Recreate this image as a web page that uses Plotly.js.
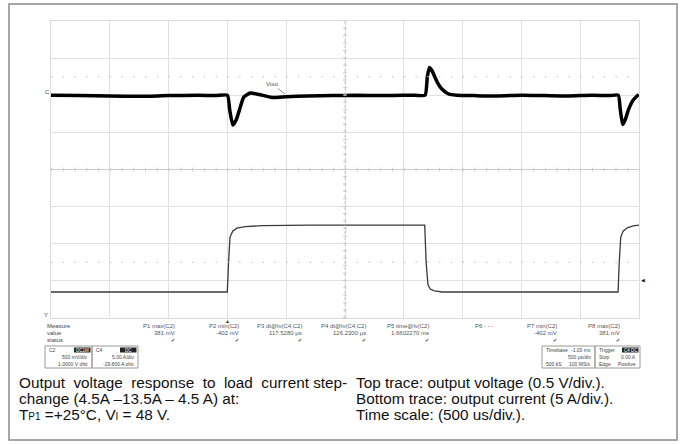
<!DOCTYPE html>
<html><head><meta charset="utf-8">
<script src="https://cdn.plot.ly/plotly-3.0.1.min.js"></script>
<style>html,body{margin:0;padding:0;background:#fff}#chart{width:685px;height:445px}</style>
</head><body><div id="chart"></div>
<script>
// ---- data (time in µs, voltage deviation in mV, current in A) ----
const vTime = [0, 250, 500, 750, 1000, 1250, 1400, 1500, 1520, 1546, 1575, 1602, 1639, 1695, 1768, 1879, 2000, 2177, 2400, 2600, 2800, 3000, 3100, 3181, 3200, 3218, 3240, 3263, 3290, 3320, 3376, 3450, 3600, 3800, 4000, 4200, 4400, 4600, 4750, 4824, 4840, 4861, 4885, 4909, 4951, 4997];
const vOut  = [0, -5, -10, -15, -5, 0, -5, 0, -200, -400, -330, -200, -25, 30, 10, -30, -20, -10, -5, 0, -5, 0, 0, 0, 250, 375, 330, 250, 160, 90, 20, 0, -5, -10, 0, -5, -10, 0, -5, 0, -180, -395, -320, -200, -65, 10];
const iTime = [0, 500, 1000, 1499, 1510, 1522, 1545, 1580, 1650, 1800, 2200, 2600, 3000, 3178, 3190, 3205, 3225, 3260, 3330, 3500, 4000, 4500, 4822, 4832, 4845, 4865, 4900, 4950, 5000];
const iOut  = [4.5, 4.5, 4.5, 4.5, 8.5, 11.9, 12.7, 13.1, 13.3, 13.45, 13.5, 13.5, 13.5, 13.5, 8.5, 5.5, 4.9, 4.65, 4.5, 4.5, 4.5, 4.5, 4.5, 8.5, 11.9, 12.7, 13.15, 13.4, 13.5];

const measNames  = ['P1 max(C2)', 'P2 min(C2)', 'P3 dt@lv(C4,C2)', 'P4 dt@lv(C4,C2)', 'P5 time@lv(C2)', 'P6 - - -', 'P7 min(C2)', 'P8 max(C2)'];
const measValues = ['381 mV', '-402 mV', '117.5280 µs', '126.2300 µs', '1.6602270 ms', '', '-402 mV', '381 mV'];
const measStatus = ['✔', '✔', '✔', '✔', '✔', '', '✔', '✔'];
const rowNames = ['Measure', 'value', 'status'];

const leftCaption = ['Output  voltage  response  to  load  current step-', 'change (4.5A –13.5A – 4.5 A) at:', 'T<span style="font-size:10px">P1</span> =+25°C, V<span style="font-size:10px">I</span> = 48 V.'];
const rightCaption = ['Top trace: output voltage (0.5 V/div.).', 'Bottom trace: output current (5 A/div.).', 'Time scale: (500 us/div.).'];

// ---- helpers ----
const W = 685, H = 445;
const PX = x => x / W, PY = y => 1 - y / H;
const FF = 'Liberation Sans, Arial, sans-serif';
const ann = (text, x, y, o = {}) => Object.assign({
  text, x: PX(x), y: PY(y), xref: 'paper', yref: 'paper', showarrow: false,
  xanchor: 'left', yanchor: 'middle', font: {family: FF, size: 6, color: '#555'}
}, o);
const rect = (x0, y0, x1, y1, o = {}) => Object.assign({
  type: 'rect', xref: 'paper', yref: 'paper', x0: PX(x0), x1: PX(x1), y0: PY(y1), y1: PY(y0),
  line: {color: '#9a9a9a', width: 1}
}, o);

const annotations = [];
const shapes = [];

// outer frame
shapes.push(rect(9, 4, 677, 440, {line: {color: '#8a8a8a', width: 1.5}}));

// graticule extras
shapes.push({type: 'line', xref: 'x', yref: 'y', x0: 2500, x1: 2500, y0: -3000, y1: 1000, line: {color: '#c8c8c8', width: 1, dash: '3px,3px'}});
shapes.push({type: 'line', xref: 'x', yref: 'y', x0: 2500, x1: 2500, y0: -3000, y1: 1000, line: {color: '#cccccc', width: 4, dash: '1px,6.42px'}});
shapes.push({type: 'line', xref: 'x', yref: 'y', x0: 0, x1: 5000, y0: -1000, y1: -1000, line: {color: '#cccccc', width: 1}});
shapes.push({type: 'line', xref: 'x', yref: 'y', x0: 0, x1: 5000, y0: -1000, y1: -1000, line: {color: '#cccccc', width: 4, dash: '1px,10.76px'}});
[250, -2250].forEach(v => shapes.push({type: 'line', xref: 'x', yref: 'y', x0: 0, x1: 5000, y0: v, y1: v, line: {color: '#c4c4c4', width: 1.3, dash: '1.3px,10.46px'}}));

// scope markers
annotations.push(ann('C', 47, 92, {xanchor: 'center', font: {family: FF, size: 6, color: '#444'}}));
annotations.push(ann('Y', 46, 315, {xanchor: 'center', font: {family: FF, size: 6, color: '#444'}}));
annotations.push(ann('▲', 227, 321, {xanchor: 'center', font: {family: FF, size: 5, color: '#333'}}));
annotations.push(ann('◀', 643, 280, {xanchor: 'center', font: {family: FF, size: 5, color: '#222'}}));
annotations.push({text: 'Vout', xref: 'paper', yref: 'paper', x: PX(285), y: PY(94), ax: -13, ay: -10,
  showarrow: true, arrowhead: 0, arrowwidth: 0.8, arrowcolor: '#777', font: {family: FF, size: 6, color: '#555'}});

// measure table
rowNames.forEach((r, i) => annotations.push(ann(r, 45, 326 + i * 7, {font: {family: FF, size: 6, color: '#444'}})));
measNames.forEach((n, k) => {
  const right = 177 + 63.6 * k;
  annotations.push(ann(n, right, 326, {xanchor: 'right'}));
  if (measValues[k]) annotations.push(ann(measValues[k], right, 333, {xanchor: 'right'}));
  if (measStatus[k]) annotations.push(ann(measStatus[k], right, 340, {xanchor: 'right', font: {family: 'DejaVu Sans', size: 5, color: '#444'}}));
});

// channel / timebase / trigger boxes
const boxes = [
  {x0: 45, x1: 92, rows: [['C2', 'DC1M'], ['', '500 mV/div'], ['', '1.0000 V ofst']]},
  {x0: 92, x1: 138, rows: [['C4', 'DC'], ['', '5.00 A/div'], ['', '-29.800 A ofst']]},
  {x0: 542, x1: 595, rows: [['Timebase', '-1.00 ms'], ['', '500 µs/div'], ['500 kS', '100 MS/s']]},
  {x0: 595, x1: 640, rows: [['Trigger', 'C4 DC'], ['Stop', '0.00 A'], ['Edge', 'Positive']]}
];
boxes.forEach((b, bi) => {
  shapes.push(rect(b.x0, 346, b.x1, 368));
  b.rows.forEach((r, i) => {
    const y = 350 + i * 7;
    if (r[0]) annotations.push(ann(r[0], b.x0 + 2, y, {font: {family: FF, size: 5, color: '#444'}}));
    if (i === 0 && bi !== 2) {
      shapes.push(rect(b.x1 - 18, 347.5, b.x1 - 1.5, 352.5, {fillcolor: '#222', line: {width: 0}}));
      annotations.push(ann(r[1], b.x1 - 9.5, y, {xanchor: 'center', font: {family: FF, size: 4.5, color: '#fff'}}));
    } else {
      annotations.push(ann(r[1], b.x1 - 2, y, {xanchor: 'right', font: {family: FF, size: 5, color: '#444'}}));
    }
  });
});

// caption
const capY = [382, 398, 414];
leftCaption.forEach((t, i) => annotations.push(ann(t, 17, capY[i], {font: {family: FF, size: 15.3, color: '#111'}})));
rightCaption.forEach((t, i) => annotations.push(ann(t, 354, capY[i], {font: {family: FF, size: 15.3, color: '#111'}})));

const traces = [
  {x: iTime, y: iOut, yaxis: 'y2', type: 'scatter', mode: 'lines', line: {color: '#3a3a3a', width: 1.3}, hoverinfo: 'skip'},
  {x: vTime, y: vOut, type: 'scatter', mode: 'lines', line: {color: '#000', width: 3.5, shape: 'spline', smoothing: 0.5}, hoverinfo: 'skip'}
];

const axisCommon = {showgrid: true, gridcolor: '#e0e0e0', gridwidth: 1, zeroline: false, showticklabels: false,
  ticks: '', showline: true, linecolor: '#dadada', linewidth: 1, mirror: true, fixedrange: true};

const layout = {
  width: W, height: H, margin: {l: 0, r: 0, t: 0, b: 0}, showlegend: false,
  paper_bgcolor: '#fff', plot_bgcolor: '#fff',
  xaxis: Object.assign({}, axisCommon, {domain: [51 / W, 639 / W], range: [0, 5000], tick0: 0, dtick: 500}),
  yaxis: Object.assign({}, axisCommon, {domain: [1 - 318 / H, 1 - 21 / H], range: [-3000, 1000], tick0: 0, dtick: 500}),
  yaxis2: {overlaying: 'y', range: [1, 41], visible: false, fixedrange: true},
  shapes, annotations
};

Plotly.newPlot('chart', traces, layout, {staticPlot: true, displayModeBar: false});
</script></body></html>
